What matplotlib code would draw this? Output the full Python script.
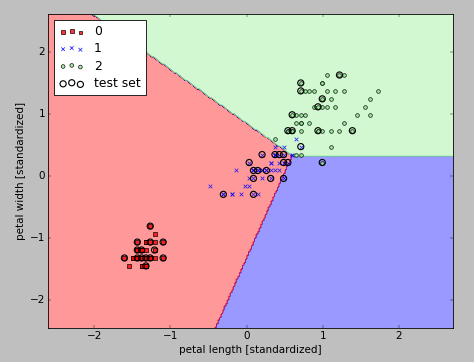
import numpy as np
import matplotlib
matplotlib.use('Agg')
import matplotlib.pyplot as plt
from matplotlib.colors import ListedColormap

plt.style.use('classic')
plt.rcParams['font.size'] = 12.6

# iris petal measurements [cm], one list per class
setosa_length = [1.4, 1.4, 1.3, 1.5, 1.4, 1.7, 1.4, 1.5, 1.4, 1.5,
                 1.5, 1.6, 1.4, 1.1, 1.2, 1.5, 1.3, 1.4, 1.7, 1.5,
                 1.7, 1.5, 1.0, 1.7, 1.9, 1.6, 1.6, 1.5, 1.4, 1.6,
                 1.6, 1.5, 1.5, 1.4, 1.5, 1.2, 1.3, 1.4, 1.3, 1.5,
                 1.3, 1.3, 1.3, 1.6, 1.9, 1.4, 1.6, 1.4, 1.5, 1.4]
setosa_width = [0.2, 0.2, 0.2, 0.2, 0.2, 0.4, 0.3, 0.2, 0.2, 0.1,
                0.2, 0.2, 0.1, 0.1, 0.2, 0.4, 0.4, 0.3, 0.3, 0.3,
                0.2, 0.4, 0.2, 0.5, 0.2, 0.2, 0.4, 0.2, 0.2, 0.2,
                0.2, 0.4, 0.1, 0.2, 0.2, 0.2, 0.2, 0.1, 0.2, 0.2,
                0.3, 0.3, 0.2, 0.6, 0.4, 0.3, 0.2, 0.2, 0.2, 0.2]
versicolor_length = [4.7, 4.5, 4.9, 4.0, 4.6, 4.5, 4.7, 3.3, 4.6, 3.9,
                     3.5, 4.2, 4.0, 4.7, 3.6, 4.4, 4.5, 4.1, 4.5, 3.9,
                     4.8, 4.0, 4.9, 4.7, 4.3, 4.4, 4.8, 5.0, 4.5, 3.5,
                     3.8, 3.7, 3.9, 5.1, 4.5, 4.5, 4.7, 4.4, 4.1, 4.0,
                     4.4, 4.6, 4.0, 3.3, 4.2, 4.2, 4.2, 4.3, 3.0, 4.1]
versicolor_width = [1.4, 1.5, 1.5, 1.3, 1.5, 1.3, 1.6, 1.0, 1.3, 1.4,
                    1.0, 1.5, 1.0, 1.4, 1.3, 1.4, 1.5, 1.0, 1.5, 1.1,
                    1.8, 1.3, 1.5, 1.2, 1.3, 1.4, 1.4, 1.7, 1.5, 1.0,
                    1.1, 1.0, 1.2, 1.6, 1.5, 1.6, 1.5, 1.3, 1.3, 1.3,
                    1.2, 1.4, 1.2, 1.0, 1.3, 1.2, 1.3, 1.3, 1.1, 1.3]
virginica_length = [6.0, 5.1, 5.9, 5.6, 5.8, 6.6, 4.5, 6.3, 5.8, 6.1,
                    5.1, 5.3, 5.5, 5.0, 5.1, 5.3, 5.5, 6.7, 6.9, 5.0,
                    5.7, 4.9, 6.7, 4.9, 5.7, 6.0, 4.8, 4.9, 5.6, 5.8,
                    6.1, 6.4, 5.6, 5.1, 5.6, 6.1, 5.6, 5.5, 4.8, 5.4,
                    5.6, 5.1, 5.1, 5.9, 5.7, 5.2, 5.0, 5.2, 5.4, 5.1]
virginica_width = [2.5, 1.9, 2.1, 1.8, 2.2, 2.1, 1.7, 1.8, 1.8, 2.5,
                   2.0, 1.9, 2.1, 2.0, 2.4, 2.3, 1.8, 2.2, 2.3, 1.5,
                   2.3, 2.0, 2.0, 1.8, 2.1, 1.8, 1.8, 1.8, 2.1, 1.6,
                   1.9, 2.0, 2.2, 1.5, 1.4, 2.3, 2.4, 1.8, 1.8, 2.1,
                   2.4, 2.3, 1.9, 2.3, 2.5, 2.3, 1.9, 2.0, 2.3, 1.8]

# samples circled as test set
test_length = [1.6, 1.3, 1.6, 1.9, 1.3, 1.4, 1.7, 1.0, 1.3, 1.4, 1.5, 1.6, 1.9, 1.5,
               4.2, 4.5, 4.6, 4.7, 3.9, 4.7, 4.8, 4.0, 4.1, 4.3, 4.0, 4.4, 4.7, 3.3, 4.0, 5.1,
               6.0, 5.1, 5.1, 5.6, 5.5, 4.9, 4.8, 4.9, 5.5, 6.3, 5.6]
test_width = [0.6, 0.4, 0.4, 0.4, 0.3, 0.3, 0.3, 0.2, 0.2, 0.2, 0.2, 0.2, 0.2, 0.1,
              1.5, 1.5, 1.5, 1.5, 1.4, 1.4, 1.4, 1.3, 1.3, 1.3, 1.2, 1.2, 1.2, 1.0, 1.0, 1.6,
              2.5, 2.4, 2.3, 2.2, 2.1, 2.0, 1.8, 1.8, 1.8, 1.8, 1.4]

# scaler fitted on the training part
length_mean, length_std = 3.84, 1.77
width_mean, width_std = 1.23, 0.78

# decision boundary corners (standardized units)
junction = (0.60, 0.33)
red_blue_bottom = (-0.41, -2.45)
red_green_top = (-2.05, 2.63)

class_labels = ['0', '1', '2']
markers = ('s', 'x', 'o')
colors = ('red', 'blue', 'lightgreen')

lengths = [setosa_length, versicolor_length, virginica_length]
widths = [setosa_width, versicolor_width, virginica_width]


def standardize(length, width):
    x = (np.array(length) - length_mean) / length_std
    y = (np.array(width) - width_mean) / width_std
    return x, y


def side(p0, p1, x, y):
    # >0 left of the line p0 -> p1
    return (p1[0] - p0[0]) * (y - p0[1]) - (p1[1] - p0[1]) * (x - p0[0])


def predict(x, y):
    left_rb = side(red_blue_bottom, junction, x, y) > 0
    left_rg = side(junction, red_green_top, x, y) > 0
    return np.where(y < junction[1], np.where(left_rb, 0, 1), np.where(left_rg, 0, 2))


X = [standardize(l, w) for l, w in zip(lengths, widths)]
all_x = np.concatenate([p[0] for p in X])
all_y = np.concatenate([p[1] for p in X])

fig = plt.figure(figsize=(474 / 59.25, 362 / 59.25), dpi=59.25)
fig.subplots_adjust(left=48.3 / 474, right=453.3 / 474, bottom=1 - 328 / 362, top=1 - 14 / 362)

cmap = ListedColormap(colors)
x1_min, x1_max = all_x.min() - 1, all_x.max() + 1
x2_min, x2_max = all_y.min() - 1, all_y.max() + 1
xx1, xx2 = np.meshgrid(np.arange(x1_min, x1_max, 0.02), np.arange(x2_min, x2_max, 0.02))
Z = predict(xx1, xx2)
plt.contourf(xx1, xx2, Z, alpha=0.4, cmap=cmap)
plt.xlim(xx1.min(), xx1.max())
plt.ylim(xx2.min(), xx2.max())

for idx, (px, py) in enumerate(X):
    if markers[idx] == 'x':
        plt.scatter(px, py, alpha=0.8, color=colors[idx], marker=markers[idx],
                    label=class_labels[idx])
    else:
        plt.scatter(px, py, alpha=0.8, facecolors=colors[idx], edgecolors='black',
                    marker=markers[idx], label=class_labels[idx])

tx, ty = standardize(test_length, test_width)
plt.scatter(tx, ty, facecolors='none', edgecolors='black', alpha=1.0, linewidths=1.4,
            marker='o', s=55, label='test set')

plt.xlabel('petal length [standardized]')
plt.ylabel('petal width [standardized]')
plt.legend(loc='upper left', fontsize=15, labelspacing=0.35)

plt.savefig('out.png', dpi=59.25, facecolor=fig.get_facecolor())
